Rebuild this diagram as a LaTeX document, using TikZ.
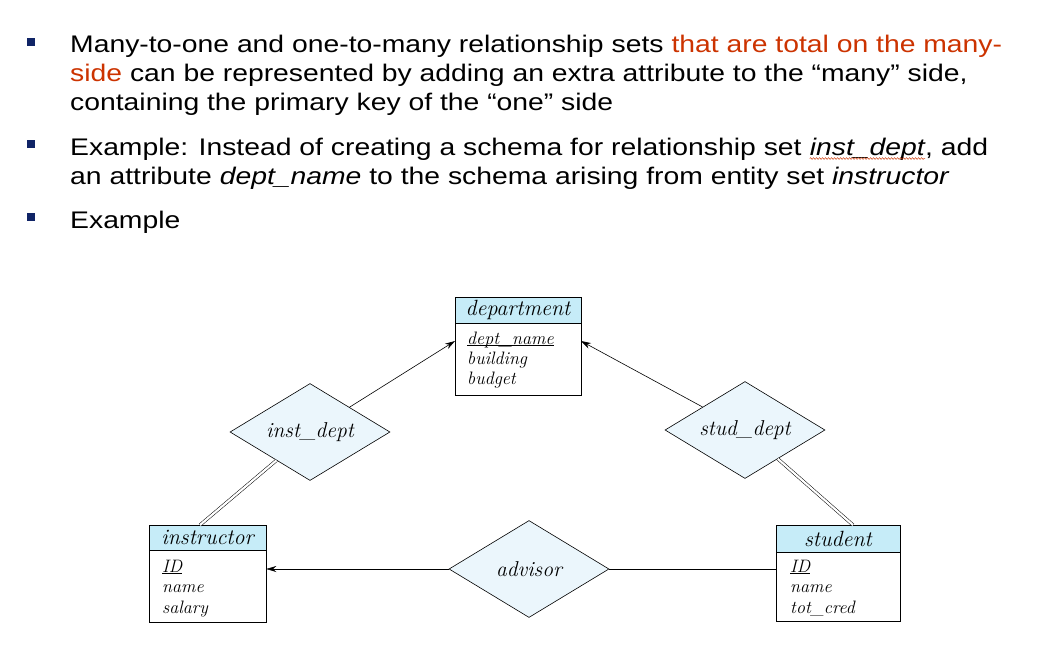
\documentclass[tikz,border=0pt]{standalone}
\usepackage{fontspec}
\setmainfont{Latin Modern Roman}
\newfontfamily\arialf[FakeStretch=1.18]{Liberation Sans}
\usetikzlibrary{shapes.geometric,arrows.meta,decorations.pathmorphing}
\definecolor{bulletblue}{RGB}{16,36,102}
\definecolor{hilite}{RGB}{204,51,0}
\definecolor{hdrfill}{RGB}{198,236,248}
\definecolor{relfill}{RGB}{235,246,252}
\begin{document}
\begin{tikzpicture}[x=1pt,y=-1pt,
  bul/.style={fill=bulletblue,minimum size=8pt,inner sep=0pt,anchor=north west},
  para/.style={anchor=base west,inner sep=0pt,font=\arialf\fontsize{24}{29}\selectfont},
  hdr/.style={draw,fill=hdrfill,line width=0.6pt,inner sep=0pt,font=\itshape\fontsize{22}{26}\selectfont},
  bodybox/.style={draw,fill=white,line width=0.6pt,inner sep=0pt},
  attr/.style={anchor=base west,inner sep=0pt,font=\itshape\fontsize{18}{21}\selectfont},
  rel/.style={diamond,draw,fill=relfill,line width=0.6pt,aspect=1.65,inner sep=0pt,minimum width=160pt,minimum height=97pt,font=\itshape\fontsize{21.5}{25}\selectfont},
  conn/.style={line width=0.6pt},
  arr/.style={line width=0.6pt,-{Stealth[length=10pt,width=6pt]}},
  dbl/.style={double,double distance=2.2pt,line width=0.5pt}]
\useasboundingbox (0,0) rectangle (1063,659);
\fill[white] (0,0) rectangle (1063,659);
% bullets
\node[bul] (b1) at (27,38) {};
\node[bul] (b2) at (27,140) {};
\node[bul] (b3) at (27,213) {};
% text
\node[para] (t1) at (70,52) {Many-to-one and one-to-many relationship sets \textcolor{hilite}{that are total on the many-}};
\node[para] (t2) at (70,81) {\textcolor{hilite}{side} can be represented by adding an extra attribute to the “many” side,};
\node[para] (t3) at (70,110) {containing the primary key of the “one” side};
\node[para] (t4a) at (70,155) {Example: Instead of creating a schema for relationship set};
\node[para] (t4b) at ([xshift=7.8pt]t4a.base east) {\itshape inst\_dept};
\node[para] (t4c) at (t4b.base east) {, add};
\draw[hilite,line width=0.5pt,decorate,decoration={snake,amplitude=0.8pt,segment length=3pt}] ([yshift=-3.5pt]t4b.base west) -- ([yshift=-3.5pt]t4b.base east);
\node[para] (t5) at (70,184) {an attribute \textit{dept\_name} to the schema arising from entity set \textit{instructor}};
\node[para] (t6) at (70,228) {Example};
% department
\node[bodybox,minimum width=126pt,minimum height=72pt] (deptb) at (518,359) {};
\node[hdr,minimum width=126pt,minimum height=26pt] (dept) at (518,310) {department};
\node[attr] (d1) at (467,344) {\underline{\smash{dept\_name}}};
\node[attr] (d2) at (467,364) {building};
\node[attr] (d3) at (467,384) {budget};
% instructor
\node[bodybox,minimum width=117pt,minimum height=72pt] (instrb) at (207.5,586) {};
\node[hdr,minimum width=117pt,minimum height=25pt] (instr) at (207.5,537.5) {instructor};
\node[attr] (i1) at (162,572) {\underline{ID}};
\node[attr] (i2) at (162,592) {name};
\node[attr] (i3) at (162,613) {salary};
% student
\node[bodybox,minimum width=124pt,minimum height=69pt] (studb) at (838,586.5) {};
\node[hdr,line width=1pt,minimum width=124pt,minimum height=27pt] (stud) at (838,538.5) {student};
\node[attr] (s1) at (790,572) {\underline{ID}};
\node[attr] (s2) at (790,592) {name};
\node[attr] (s3) at (790,613) {tot\_cred};
% relationships
\node[rel] (inst) at (310,432) {inst\_dept};
\node[rel] (sdept) at (745,430) {stud\_dept};
\node[rel] (adv) at (529,569) {advisor};
% connectors
\coordinate (dl) at (455,341);
\coordinate (dr) at (581,341);
\coordinate (it) at (200,525);
\coordinate (st) at (853,525);
\draw[arr] (inst) -- (dl);
\draw[arr] (sdept) -- (dr);
\draw[dbl] (inst) -- (it);
\draw[dbl] (sdept) -- (st);
\draw[arr] (adv) -- (adv -| instrb.east);
\draw[conn] (adv) -- (adv -| studb.west);
\end{tikzpicture}
\end{document}
